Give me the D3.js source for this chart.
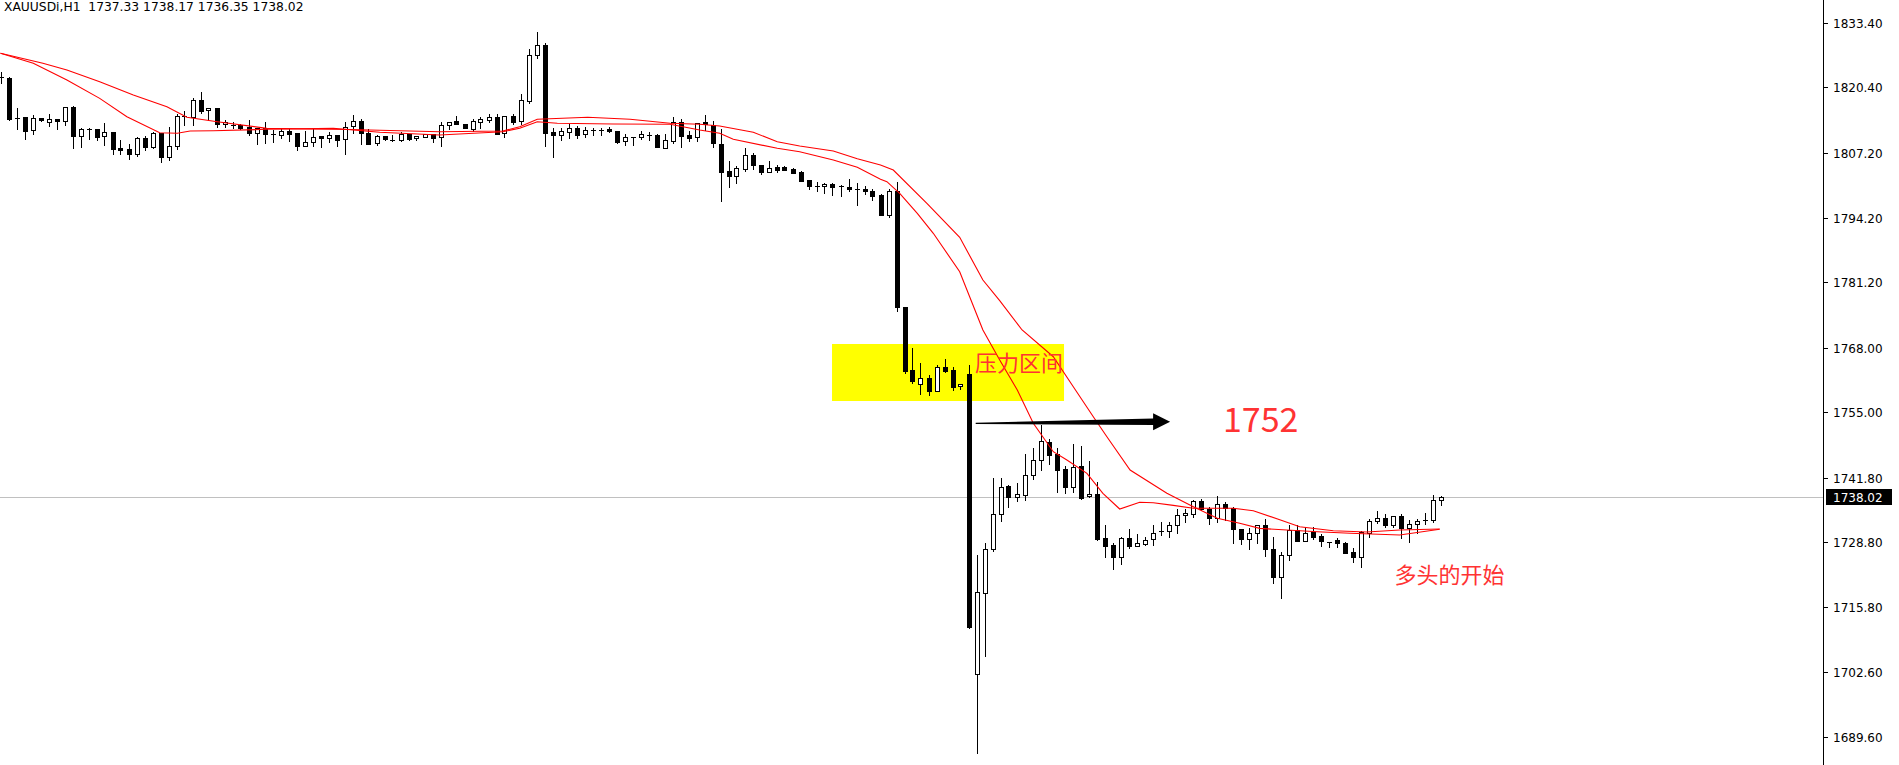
<!DOCTYPE html>
<html><head><meta charset="utf-8">
<script src="https://cdn.jsdelivr.net/npm/d3@7"></script>
<style>html,body{margin:0;padding:0;background:#fff;overflow:hidden}</style>
</head><body>
<svg id="c" width="1899" height="765"></svg>
<script>
const symbol = "XAUUSDi", timeframe = "H1";
const opens = [1822.5,1822.4,1814.3,1814.4,1811.8,1814.2,1813.4,1814.0,1813.6,1816.4,1810.7,1812.0,1812.0,1810.6,1811.4,1808.3,1808.0,1807.1,1810.2,1808.5,
1811.2,1806.45,1808.55,1814.6,1814.4,1817.8,1815.8,1816.2,1813.0,1812.7,1812.8,1812.4,1811.2,1812.2,1811.0,1810.75,1811.6,1811.2,1808.7,1809.5,
1810.55,1810.15,1810.75,1809.95,1812.6,1813.6,1811.2,1809.15,1810.55,1809.9,1809.75,1810.95,1810.15,1810.5,1810.95,1810.36,1812.78,1813.65,1812.98,1812.0,
1813.5,1813.9,1814.4,1811.2,1814.6,1813.6,1817.6,1826.87,1828.9,1811.35,1810.88,1811.5,1812.23,1810.96,1811.85,1811.9,1812.0,1811.63,1809.55,1810.5,
1810.5,1810.8,1810.82,1808.3,1809.55,1813.5,1810.8,1810.36,1813.4,1812.78,1808.95,1803.57,1802.63,1804.04,1806.74,1804.7,1803.44,1804.3,1804.3,1803.97,
1803.3,1801.76,1800.6,1800.5,1800.9,1800.5,1800.35,1799.9,1799.95,1799.55,1798.74,1794.7,1799.55,1776.25,1763.5,1760.62,1761.83,1759.33,1764.05,1763.5,
1760.3,1762.64,1702.22,1718.5,1727.4,1734.45,1740.08,1737.87,1738.4,1742.3,1745.3,1749.0,1746.5,1743.57,1740.0,1744.17,1738.07,1738.53,1729.6,1728.3,
1725.9,1729.6,1728.1,1728.53,1729.53,1731.1,1731.14,1732.2,1734.24,1734.44,1737.07,1735.57,1733.7,1736.5,1735.77,1731.48,1729.54,1730.6,1732.2,1727.4,
1721.76,1726.3,1731.28,1729.13,1730.8,1730.14,1728.95,1729.27,1728.6,1726.8,1725.9,1730.68,1733.04,1733.64,1732.35,1734.04,1731.62,1732.43,1733.3,1733.24,
1737.33];
const highs = [1823.6,1822.6,1816.2,1814.4,1814.8,1814.3,1815.0,1814.0,1816.4,1816.6,1812.3,1812.2,1812.0,1813.2,1811.4,1809.8,1809.1,1810.4,1810.6,1811.5,
1811.2,1812.4,1815.0,1815.65,1818.2,1819.5,1816.2,1816.2,1813.8,1813.5,1813.0,1813.8,1812.2,1813.5,1811.8,1812.2,1812.1,1811.2,1811.6,1812.1,
1810.55,1811.4,1810.75,1813.4,1814.8,1814.0,1812.0,1810.8,1810.7,1810.8,1811.4,1810.95,1810.55,1811.1,1810.95,1813.4,1813.5,1814.65,1812.98,1814.05,
1814.4,1815.1,1815.05,1814.7,1815.0,1819.1,1828.1,1831.5,1829.3,1812.2,1812.3,1813.0,1812.6,1812.4,1812.3,1812.3,1812.5,1811.63,1811.1,1810.5,
1811.57,1811.43,1811.1,1811.0,1814.4,1814.0,1811.6,1813.2,1814.8,1813.7,1811.97,1805.6,1804.6,1808.2,1807.2,1804.7,1805.6,1804.8,1804.65,1804.1,
1803.6,1801.76,1801.3,1801.2,1801.2,1800.7,1802.0,1801.15,1800.55,1799.95,1798.9,1800.0,1801.3,1776.25,1767.87,1764.85,1762.5,1764.5,1765.65,1764.05,
1760.7,1764.5,1726.25,1728.6,1741.8,1741.8,1740.35,1740.69,1746.6,1747.7,1752.4,1749.55,1747.7,1744.2,1748.6,1748.2,1745.2,1740.9,1732.3,1728.6,
1729.93,1731.5,1730.5,1729.93,1732.3,1732.95,1732.8,1735.5,1735.45,1737.32,1737.53,1735.97,1738.1,1736.9,1735.97,1731.48,1731.6,1732.2,1733.4,1729.8,
1726.9,1732.35,1732.2,1731.8,1731.8,1730.48,1728.95,1729.73,1728.8,1727.7,1731.0,1733.5,1735.2,1734.44,1734.04,1734.44,1733.24,1733.44,1734.65,1738.27,
1738.17];
const lows = [1821.2,1813.9,1812.0,1810.1,1811.1,1813.7,1812.7,1812.0,1812.8,1808.3,1808.5,1810.0,1809.8,1808.8,1806.9,1806.9,1806.05,1806.6,1807.8,1808.3,
1805.4,1805.8,1808.0,1812.8,1812.8,1815.2,1813.8,1812.5,1812.5,1812.2,1812.1,1810.8,1809.1,1809.3,1809.35,1810.15,1809.7,1807.9,1808.7,1808.7,
1808.35,1809.35,1808.7,1806.9,1811.2,1809.1,1809.1,1808.8,1809.9,1809.7,1809.55,1809.9,1809.9,1810.5,1809.4,1808.67,1812.0,1812.98,1812.17,1811.6,
1812.2,1813.4,1810.96,1810.5,1813.0,1813.0,1817.3,1826.4,1808.67,1806.3,1809.9,1810.3,1810.3,1810.4,1810.76,1810.9,1811.35,1809.2,1808.8,1808.8,
1809.95,1809.76,1808.35,1808.3,1809.27,1808.35,1809.55,1809.68,1811.8,1808.47,1797.6,1800.3,1801.2,1803.6,1804.04,1803.03,1803.3,1803.44,1803.77,1803.17,
1801.5,1799.95,1799.6,1799.1,1798.7,1798.6,1799.5,1796.8,1798.9,1797.8,1794.65,1794.37,1775.3,1763.0,1760.9,1758.6,1758.4,1759.33,1763.2,1759.5,
1759.7,1711.5,1686.3,1705.97,1727.1,1733.15,1735.97,1737.2,1737.4,1741.6,1743.4,1744.6,1738.9,1738.8,1739.0,1737.53,1738.0,1729.27,1725.85,1723.4,
1724.4,1727.7,1728.1,1728.2,1728.2,1730.34,1729.9,1730.7,1732.95,1733.96,1735.3,1732.55,1732.95,1733.3,1728.6,1728.46,1727.4,1728.6,1726.1,1720.7,
1717.5,1725.2,1729.0,1729.13,1729.54,1728.12,1727.9,1727.92,1726.6,1724.9,1723.9,1729.8,1732.63,1731.9,1731.83,1729.6,1728.8,1730.6,1732.43,1732.95,
1736.35];
const closes = [1822.4,1814.0,1814.2,1811.7,1814.2,1813.9,1814.0,1813.7,1816.4,1810.7,1812.0,1811.9,1810.5,1811.4,1808.1,1807.9,1807.0,1810.2,1808.5,1811.2,
1806.45,1808.55,1814.6,1814.4,1817.8,1815.7,1816.2,1813.0,1813.4,1812.75,1812.3,1811.2,1812.2,1811.0,1811.0,1811.6,1811.1,1808.7,1809.5,1810.5,
1810.15,1810.75,1809.9,1812.5,1813.6,1811.2,1809.1,1810.55,1809.95,1809.9,1810.95,1810.1,1810.55,1810.95,1810.15,1812.8,1813.5,1812.98,1812.17,1813.65,
1814.0,1814.4,1811.1,1814.6,1813.5,1817.8,1826.87,1828.9,1811.3,1810.9,1811.63,1812.2,1810.9,1811.83,1811.8,1811.9,1811.57,1809.5,1810.36,1810.5,
1810.96,1810.8,1808.47,1809.8,1813.5,1810.68,1810.28,1813.2,1813.0,1809.15,1803.44,1802.63,1804.1,1806.74,1804.7,1803.44,1804.24,1803.77,1803.84,1803.24,
1801.62,1800.55,1800.6,1800.9,1800.4,1800.5,1799.9,1799.9,1799.5,1798.6,1794.7,1799.55,1776.25,1763.36,1761.35,1761.83,1759.33,1764.05,1763.36,1760.15,
1760.7,1711.81,1718.74,1727.4,1734.45,1739.9,1737.87,1738.47,1742.3,1745.3,1749.14,1746.45,1743.4,1740.0,1743.9,1737.73,1738.47,1729.47,1728.1,1725.9,
1729.6,1728.1,1728.6,1729.2,1730.74,1731.15,1732.2,1734.24,1734.64,1737.12,1735.45,1733.76,1736.45,1735.65,1731.42,1729.54,1730.6,1732.2,1727.4,1721.76,
1726.2,1731.28,1729.13,1730.74,1729.94,1729.0,1728.85,1728.6,1726.7,1725.9,1730.8,1733.04,1733.64,1732.23,1734.04,1731.75,1732.43,1733.04,1733.25,1737.26,
1738.02];
// moving-average lines: [bar index, price]
const maSlow = [[0,1827.28],[5.3,1825.26],[8.3,1823.91],[12.4,1821.56],[16.6,1818.88],[20.8,1816.52],[23.3,1814.39],[27.1,1813.5],[33.3,1812.17],
[43.7,1811.93],[54.9,1811.49],[62.8,1811.63],[64.9,1812.5],[67.1,1813.99],[73.4,1814.39],[78.7,1813.99],[83.7,1813.18],[87.4,1812.98],[89.9,1812.64],
[94.1,1811.37],[97.1,1809.48],[99.9,1808.61],[104.1,1807.6],[107.1,1806.05],[110,1804.78],[111.6,1803.77],[115.8,1797.07],[119.9,1790.23],[122.8,1781.62],
[124.9,1777.46],[127.7,1771.56],[131.6,1766.18],[134.1,1760.14],[136.6,1754.1],[138.3,1750.07],[141.2,1743.37],[145.8,1738.67],[149.1,1735.97],
[152.1,1733.64],[154.9,1732.63],[157.4,1731.62],[160.8,1731.28],[164.6,1730.94],[168.7,1730.62],[174.9,1730.28],[179.9,1731.42]];
const maFast = [[0,1827.28],[4.1,1825.26],[8.3,1821.9],[12.4,1818.2],[15.8,1814.51],[19.9,1811.29],[22.1,1811.17],[23.7,1811.63],[26.6,1811.69],
[33.3,1811.97],[41.6,1812.17],[47.4,1811.37],[54.9,1810.82],[62.8,1811.49],[64.9,1812.17],[67.1,1813.5],[69.6,1813.18],[76.6,1813.04],[83.7,1812.98],
[87.4,1811.83],[89.9,1811.17],[91.6,1809.96],[97.1,1808.15],[99.9,1807.46],[104.1,1805.79],[107.1,1804.32],[110,1801.9],[110.8,1801.42],[112.4,1799.09],
[114.6,1795.06],[116.6,1791.03],[119.9,1783.3],[122.8,1771.56],[124.9,1765.52],[127.1,1759.48],[129.1,1752.77],[131.6,1747.05],[133.3,1745.38],
[135.8,1742.7],[137.8,1738.67],[139.9,1735.51],[142.4,1736.86],[144.1,1736.78],[146.6,1736.25],[149.1,1735.65],[154.1,1735.65],[156.6,1735.17],
[160,1733.3],[162.4,1731.95],[166.6,1731.14],[170.8,1730.88],[174.9,1731.28],[179.9,1731.48]];
const tickLabels = ["1833.40","1820.40","1807.20","1794.20","1781.20","1768.00","1755.00","1741.80","1728.80","1715.80","1702.60","1689.60"];
const zone = {i0:103.94, i1:132.94, p0:1757.26, p1:1768.74};
const zoneLabel = "压力区间";
const arrowFrom = [121.9, 1752.75], arrowTo = [146.2, 1753.1];
const levelLabel = "1752";
const bullLabel = "多头的开始";

const W = 1899, H = 765, axisX = 1823;
const svg = d3.select("#c");
svg.append("rect").attr("width",W).attr("height",H).attr("fill","#fff");
const x = d3.scaleLinear().domain([0,180]).range([0.5,1440.5]);
const y = d3.scaleLinear().domain([1689.6,1833.4]).range([737,22.9]);
const last = closes[closes.length-1];

svg.append("defs").append("clipPath").attr("id","clip").append("rect").attr("x",0).attr("y",0).attr("width",axisX).attr("height",H);
const g = svg.append("g").attr("clip-path","url(#clip)");

// yellow zone
g.append("rect").attr("x",x(zone.i0)).attr("y",y(zone.p1)).attr("width",x(zone.i1)-x(zone.i0)).attr("height",y(zone.p0)-y(zone.p1)).attr("fill","#ffff00");

// current price line
g.append("line").attr("x1",0).attr("x2",axisX).attr("y1",Math.round(y(last))+0.5).attr("y2",Math.round(y(last))+0.5).attr("stroke","#c0c0c0").attr("stroke-width",1);

// candles
const cg = g.append("g").attr("shape-rendering","crispEdges");
const idx = d3.range(opens.length);
idx.forEach(i=>{
  const cx = Math.round(x(i));
  const o=opens[i], c=closes[i], h=highs[i], l=lows[i];
  cg.append("line").attr("x1",cx+0.5).attr("x2",cx+0.5).attr("y1",Math.round(y(h))).attr("y2",Math.round(y(l))+1).attr("stroke","#000");
  const yt = Math.round(y(Math.max(o,c))), yb = Math.round(y(Math.min(o,c)));
  if (yb - yt < 2) {
    cg.append("rect").attr("x",cx-2).attr("y",yt).attr("width",5).attr("height",Math.max(1,yb-yt)).attr("fill","#000");
  } else if (c < o) {
    cg.append("rect").attr("x",cx-2).attr("y",yt).attr("width",5).attr("height",yb-yt+1).attr("fill","#000");
  } else {
    cg.append("rect").attr("x",cx-1.5).attr("y",yt+0.5).attr("width",4).attr("height",yb-yt).attr("fill","#fff").attr("stroke","#000").attr("stroke-width",1);
  }
});

// MA lines
const line = d3.line().x(d=>x(d[0])).y(d=>y(d[1]));
[maSlow, maFast].forEach(m=>{
  g.append("path").attr("d",line(m)).attr("fill","none").attr("stroke","#ff0000").attr("stroke-width",1.1);
});

// arrow
{
  const x0=x(arrowFrom[0]), y0=y(arrowFrom[1]), x1=x(arrowTo[0]), y1=y(arrowTo[1]);
  const hb = x1-17, yb = y0 + (y1-y0)*(hb-x0)/(x1-x0);
  const pts = [[x0,y0-0.6],[hb,yb-3.2],[hb,yb-8.5],[x1,y1],[hb,yb+8.5],[hb,yb+3.2],[x0,y0+0.6]];
  g.append("path").attr("d","M"+pts.map(p=>p.join(",")).join("L")+"Z").attr("fill","#000");
}

// texts
const red = "#ff3333";
g.append("text").attr("x",x(zone.i1)-1).attr("y",y(zone.p1)+27).attr("text-anchor","end")
  .attr("font-family","'Noto Sans CJK SC'").attr("font-size",22).attr("fill",red).text(zoneLabel);
g.append("text").attr("x",1223).attr("y",y(1752.75)+9).attr("font-family","'Noto Sans CJK SC'").attr("font-size",34).attr("fill",red).text(levelLabel);
g.append("text").attr("x",x(173.5)+6).attr("y",y(1720.4)-1).attr("font-family","'Noto Sans CJK SC'").attr("font-size",22).attr("fill",red).text(bullLabel);

// axis
svg.append("line").attr("x1",axisX+0.5).attr("x2",axisX+0.5).attr("y1",0).attr("y2",H).attr("stroke","#000").attr("shape-rendering","crispEdges");
tickLabels.forEach(t=>{
  const yy = Math.round(y(+t));
  svg.append("line").attr("x1",axisX).attr("x2",axisX+5).attr("y1",yy+0.5).attr("y2",yy+0.5).attr("stroke","#000").attr("shape-rendering","crispEdges");
  svg.append("text").attr("x",axisX+10).attr("y",yy+4.5).attr("font-family","'DejaVu Sans'").attr("font-size",12).attr("fill","#000").text(t);
});
{
  const yy = Math.round(y(last));
  svg.append("rect").attr("x",axisX+3).attr("y",yy-8).attr("width",66).attr("height",16).attr("fill","#000");
  svg.append("text").attr("x",axisX+10).attr("y",yy+4.5).attr("font-family","'DejaVu Sans'").attr("font-size",12).attr("fill","#fff").text(last.toFixed(2));
}
// header
const L = opens.length-1;
svg.append("text").attr("x",4).attr("y",11).attr("font-family","'DejaVu Sans'").attr("font-size",12.3).attr("fill","#000")
  .style("white-space","pre").text(`${symbol},${timeframe}  ${opens[L].toFixed(2)} ${highs[L].toFixed(2)} ${lows[L].toFixed(2)} ${closes[L].toFixed(2)}`);
</script>
</body></html>
